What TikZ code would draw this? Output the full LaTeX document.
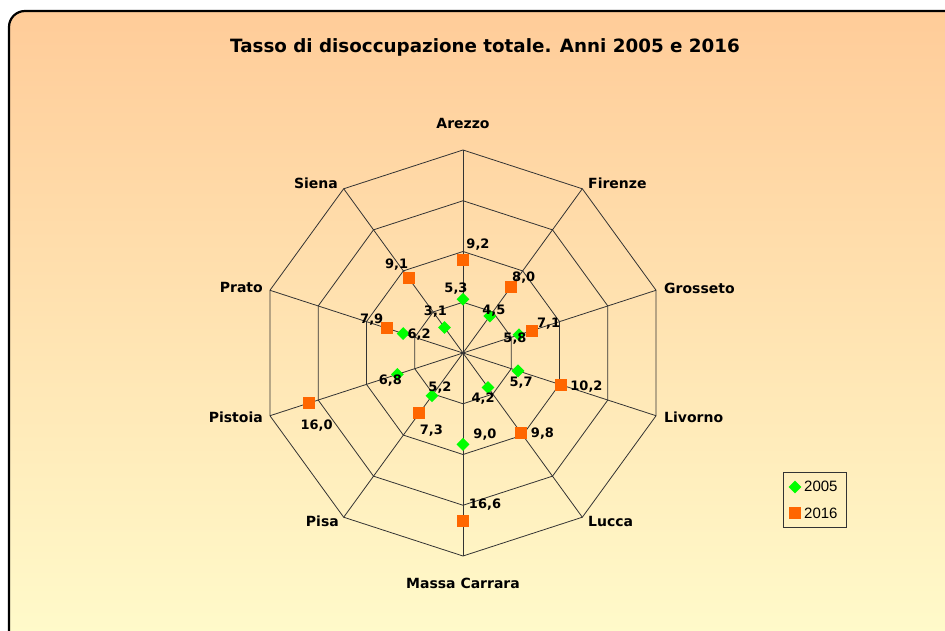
\documentclass[tikz,border=0pt]{standalone}
\usepackage{fontspec}
\setmainfont{DejaVu Sans}
\newfontfamily\legfont{Liberation Sans}
\usetikzlibrary{shapes.geometric}
\definecolor{bgtop}{HTML}{FFCC99}
\definecolor{bgbot}{HTML}{FFFCCC}
\definecolor{sqcol}{HTML}{FF6600}
\definecolor{dmcol}{HTML}{00FF00}
\definecolor{gridcol}{HTML}{333333}
\tikzset{
  gridline/.style={draw=gridcol, line width=0.8pt},
  cat/.style={font=\bfseries\fontsize{14}{16}\selectfont, inner sep=0pt},
  val/.style={font=\bfseries\fontsize{13}{15}\selectfont, inner sep=0pt},
  sq/.style={rectangle, fill=sqcol, minimum size=12pt, inner sep=0pt},
  dm/.style={diamond, fill=dmcol, minimum width=13pt, minimum height=13pt, inner sep=0pt},
}
\def\k{10.15}

\begin{document}
\begin{tikzpicture}[x=1pt,y=1pt]
    \useasboundingbox (0,0) rectangle (945,630);
    \draw[line width=2.2pt, rounded corners=16pt, top color=bgtop, bottom color=bgbot] (9,619) rectangle (975,-30);

    \node[font=\bfseries\fontsize{18.3}{21}\selectfont] (title) at (485,583) {Tasso di disoccupazione totale. Anni 2005 e 2016};

    % grid
    \begin{scope}[shift={(463,277)}]
        \foreach \r in {50.75,101.5,152.25,203}
            \draw[gridline] (90:\r) -- (54:\r) -- (18:\r) -- (-18:\r) -- (-54:\r) -- (-90:\r) -- (-126:\r) -- (-162:\r) -- (162:\r) -- (126:\r) -- cycle;
        \foreach \a in {90,54,...,-234}
            \draw[gridline] (0,0) -- (\a:203);

        % 2016
        \node[sq] (ar16) at (90:{9.2*\k}) {};
        \node[sq] (fi16) at (54:{8.0*\k}) {};
        \node[sq] (gr16) at (18:{7.1*\k}) {};
        \node[sq] (li16) at (-18:{10.2*\k}) {};
        \node[sq] (lu16) at (-54:{9.8*\k}) {};
        \node[sq] (ms16) at (-90:{16.6*\k}) {};
        \node[sq] (pi16) at (-126:{7.3*\k}) {};
        \node[sq] (pt16) at (-162:{16.0*\k}) {};
        \node[sq] (pr16) at (162:{7.9*\k}) {};
        \node[sq] (si16) at (126:{9.1*\k}) {};

        % 2005
        \node[dm] (ar05) at (90:{5.3*\k}) {};
        \node[dm] (fi05) at (54:{4.5*\k}) {};
        \node[dm] (gr05) at (18:{5.8*\k}) {};
        \node[dm] (li05) at (-18:{5.7*\k}) {};
        \node[dm] (lu05) at (-54:{4.2*\k}) {};
        \node[dm] (ms05) at (-90:{9.0*\k}) {};
        \node[dm] (pi05) at (-126:{5.2*\k}) {};
        \node[dm] (pt05) at (-162:{6.8*\k}) {};
        \node[dm] (pr05) at (162:{6.2*\k}) {};
        \node[dm] (si05) at (126:{3.1*\k}) {};
    \end{scope}

    % values
    \node[val, xshift=15pt, yshift=15pt] (lar16) at (ar16) {9,2};
    \node[val, xshift=13pt, yshift=10pt] (lfi16) at (fi16) {8,0};
    \node[val, xshift=17pt, yshift=7pt] (lgr16) at (gr16) {7,1};
    \node[val, xshift=25pt, yshift=-2pt] (lli16) at (li16) {10,2};
    \node[val, xshift=21pt] (llu16) at (lu16) {9,8};
    \node[val, xshift=22pt, yshift=17pt] (lms16) at (ms16) {16,6};
    \node[val, xshift=12pt, yshift=-18pt] (lpi16) at (pi16) {7,3};
    \node[val, xshift=8pt, yshift=-22pt] (lpt16) at (pt16) {16,0};
    \node[val, xshift=-15pt, yshift=9pt] (lpr16) at (pr16) {7,9};
    \node[val, xshift=-12pt, yshift=14pt] (lsi16) at (si16) {9,1};

    \node[val, xshift=-7pt, yshift=11pt] (lar05) at (ar05) {5,3};
    \node[val, xshift=4pt, yshift=5pt] (lfi05) at (fi05) {4,5};
    \node[val, xshift=-4pt, yshift=-4pt] (lgr05) at (gr05) {5,8};
    \node[val, xshift=3pt, yshift=-12pt] (lli05) at (li05) {5,7};
    \node[val, xshift=-5pt, yshift=-11pt] (llu05) at (lu05) {4,2};
    \node[val, xshift=22pt, yshift=10pt] (lms05) at (ms05) {9,0};
    \node[val, xshift=8pt, yshift=8pt] (lpi05) at (pi05) {5,2};
    \node[val, xshift=-7pt, yshift=-6pt] (lpt05) at (pt05) {6,8};
    \node[val, xshift=16pt, yshift=-1pt] (lpr05) at (pr05) {6,2};
    \node[val, xshift=-9pt, yshift=16pt] (lsi05) at (si05) {3,1};

    % categories
    \node[cat] (ar) at (463,507) {Arezzo};
    \node[cat, anchor=west] (fi) at (588,447) {Firenze};
    \node[cat, anchor=west] (gr) at (664,342) {Grosseto};
    \node[cat, anchor=west] (li) at (664,213) {Livorno};
    \node[cat, anchor=west] (lu) at (588,109) {Lucca};
    \node[cat] (ms) at (463,47) {Massa Carrara};
    \node[cat, anchor=east] (pi) at (339,109) {Pisa};
    \node[cat, anchor=east] (pt) at (263,213) {Pistoia};
    \node[cat, anchor=east] (pr) at (263,343) {Prato};
    \node[cat, anchor=east] (si) at (338,447) {Siena};

    % legend
    \node[draw=gridcol, line width=0.8pt, minimum width=63pt, minimum height=55pt, inner sep=0pt] (leg) at (814.5,130.5) {};
    \node[dm] (leg05) at (795,143) {};
    \node[anchor=west, font=\legfont\fontsize{15}{17}\selectfont, inner sep=0pt] (t05) at (804,144) {2005};
    \node[sq] (leg16) at (795,117) {};
    \node[anchor=west, font=\legfont\fontsize{15}{17}\selectfont, inner sep=0pt] (t16) at (804,117) {2016};
\end{tikzpicture}
\end{document}
